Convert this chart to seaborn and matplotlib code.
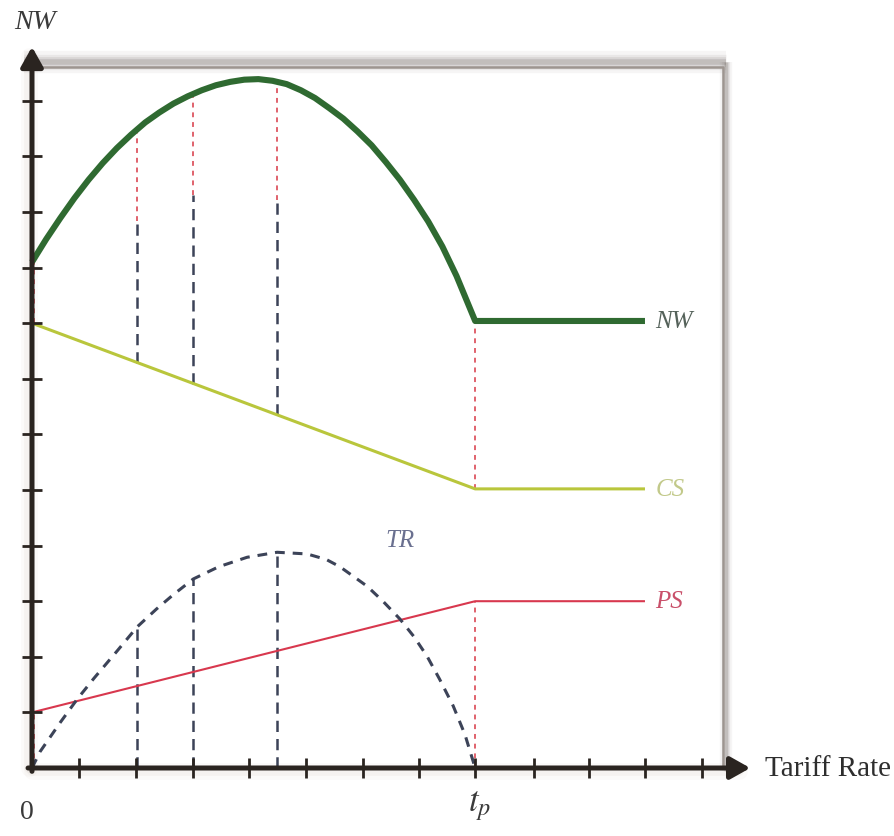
import numpy as np
import pandas as pd
import seaborn as sns
import matplotlib
matplotlib.use("Agg")
import matplotlib.pyplot as plt

# tariff rate axis (units of tick spacing measured from the origin)
tariff_ticks = [0.83, 1.84, 2.84, 3.83, 4.84, 5.85, 6.84, 7.83, 8.87, 9.84, 10.83, 11.84]
welfare_ticks = [1, 2, 3, 4, 5, 6, 7, 8, 9, 10, 11, 12]
t_p = 7.83
t_end = 10.83

# net welfare
nw_x = [0, 0.25, 0.5, 0.75, 1.0, 1.25, 1.5, 1.75, 2.0, 2.25, 2.5, 2.75, 3.0, 3.25, 3.5, 3.75,
        4.0, 4.25, 4.5, 4.75, 5.0, 5.25, 5.5, 5.75, 6.0, 6.25, 6.5, 6.75, 7.0, 7.25, 7.5, 7.83,
        10.83]
nw_y = [9.10, 9.51, 9.89, 10.25, 10.58, 10.88, 11.15, 11.39, 11.61, 11.79, 11.95, 12.08, 12.19,
        12.28, 12.34, 12.38, 12.39, 12.36, 12.30, 12.19, 12.05, 11.87, 11.68, 11.45, 11.20,
        10.90, 10.58, 10.22, 9.83, 9.38, 8.85, 8.04, 8.04]

# consumer surplus / producer surplus
cs_x = [0, 7.83, 10.83]
cs_y = [8.0, 5.02, 5.02]
ps_x = [0, 7.83, 10.83]
ps_y = [1.0, 3.0, 3.0]

# tariff revenue
tr_x = [0, 0.14, 0.5, 0.8, 1.1, 1.5, 1.86, 2.2, 2.5, 2.85, 3.3, 3.8, 4.33, 4.86, 5.2, 5.44,
        5.92, 6.2, 6.5, 6.75, 6.98, 7.2, 7.44, 7.65, 7.83]
tr_y = [0, 0.29, 0.82, 1.24, 1.62, 2.10, 2.54, 2.86, 3.12, 3.40, 3.62, 3.79, 3.88, 3.85, 3.75,
        3.62, 3.27, 3.00, 2.68, 2.36, 2.01, 1.60, 1.12, 0.60, 0]

# vertical guides
guide_x = [1.86, 2.85, 4.33]
guide_tr = [2.54, 3.40, 3.88]
guide_cs = [7.29, 6.91, 6.34]
guide_nw = [11.43, 12.14, 12.30]

NW_COL = "#2f6a31"
CS_COL = "#b9c63c"
PS_COL = "#d8384e"
TR_COL = "#3c4358"
DOT_COL = "#e0626c"
AX_COL = "#2a2420"

sns.set_style("white")
plt.rcParams["font.family"] = ["Liberation Serif", "DejaVu Serif"]
plt.rcParams["mathtext.fontset"] = "stix"

fig = plt.figure(figsize=(8.95, 8.37), dpi=100)
ax = fig.add_axes([0, 0, 1, 1])
XU, YU = 56.6, 55.6  # pixels per unit
ax.set_xlim(-32 / XU, (895 - 32) / XU)
ax.set_ylim(-(837 - 769) / YU, 769 / YU)
ax.axis("off")

# framed panel with soft shadow
FR, FT = 12.2, 12.61
for w, a in [(16, 0.06), (11, 0.09), (7, 0.13), (4, 0.2)]:
    ax.plot([-0.15, FR + 0.06], [FT + 0.08, FT + 0.08], color="#6b625c", lw=w, alpha=a,
            solid_capstyle="butt", zorder=1)
    ax.plot([FR + 0.06, FR + 0.06], [FT + 0.08, -0.05], color="#6b625c", lw=w * 0.55, alpha=a,
            solid_capstyle="butt", zorder=1)
ax.plot([0, FR, FR], [FT, FT, 0], color="#9d9590", lw=1.8, zorder=2)

# faint shadow around axes
for w, a in [(12, 0.03), (7, 0.05)]:
    ax.plot([-0.05, -0.05], [0, 12.8], color="#8a6a55", lw=w, alpha=a, zorder=2)
    ax.plot([0, 12.5], [-0.06, -0.06], color="#8a6a55", lw=w, alpha=a, zorder=2)

# vertical guides
dotted = (0, (2.5, 2.5))
navy_dash = (0, (4.5, 2.8))
for gx, tr, cs, nw in zip(guide_x, guide_tr, guide_cs, guide_nw):
    ax.plot([gx, gx], [0, tr], color=TR_COL, lw=1.8, linestyle=navy_dash, zorder=3)
    ax.plot([gx, gx], [cs, cs + tr], color=TR_COL, lw=1.8, linestyle=navy_dash, zorder=3)
    ax.plot([gx, gx], [cs + tr, nw], color=DOT_COL, lw=1.4, linestyle=dotted, zorder=3)
ax.plot([t_p, t_p], [0, ps_y[1]], color=DOT_COL, lw=1.4, linestyle=dotted, zorder=3)
ax.plot([t_p, t_p], [cs_y[1], nw_y[-1]], color=DOT_COL, lw=1.4, linestyle=dotted, zorder=3)
ax.plot([0.03, 0.03], [0, ps_y[0]], color=DOT_COL, lw=1.4, linestyle=dotted, zorder=3)
ax.plot([0.03, 0.03], [cs_y[0], nw_y[0]], color=DOT_COL, lw=1.4, linestyle=dotted, zorder=3)

# curves
sns.lineplot(x=cs_x, y=cs_y, ax=ax, color=CS_COL, lw=2.2, estimator=None, sort=False, zorder=4)
sns.lineplot(x=ps_x, y=ps_y, ax=ax, color=PS_COL, lw=1.5, estimator=None, sort=False, zorder=4)
sns.lineplot(x=tr_x, y=tr_y, ax=ax, color=TR_COL, lw=2.2, estimator=None, sort=False,
             linestyle=(0, (3.2, 2.6)), zorder=4)
sns.lineplot(x=nw_x, y=nw_y, ax=ax, color=NW_COL, lw=4.4, estimator=None, sort=False, zorder=5)
for line in ax.get_lines()[-4:]:
    line.set_solid_capstyle("butt")
    line.set_solid_joinstyle("round")

# axes with arrows
arrow = dict(arrowstyle="-|>,head_length=0.8,head_width=0.45", lw=3.6, color=AX_COL,
             mutation_scale=15, shrinkA=0, shrinkB=0)
ax.annotate("", xy=(0, 12.97), xytext=(0, -0.06), arrowprops=arrow, zorder=6)
ax.annotate("", xy=(12.69, 0), xytext=(-0.07, 0), arrowprops=arrow, zorder=6)
ax.plot(tariff_ticks, np.zeros(len(tariff_ticks)), ls="none", marker="|", ms=14, mew=2,
        color=AX_COL, zorder=6)
ax.plot(np.zeros(len(welfare_ticks)), welfare_ticks, ls="none", marker="_", ms=14, mew=2,
        color=AX_COL, zorder=6)

# labels
ax.text(t_end + 0.18, nw_y[-1], "NW", style="italic", fontsize=18, color="#55625a",
        ha="left", va="center")
ax.text(t_end + 0.18, cs_y[-1], "CS", style="italic", fontsize=18, color="#c2c98a",
        ha="left", va="center")
ax.text(t_end + 0.18, ps_y[-1], "PS", style="italic", fontsize=18, color="#c9506a",
        ha="left", va="center")
ax.text(6.5, 4.1, "TR", style="italic", fontsize=18, color="#6a7090", ha="center", va="center")
ax.text(0.05, 13.43, "NW", style="italic", fontsize=20, color="#3a3a3a", ha="center", va="center")
ax.text(-0.09, -0.78, "0", fontsize=20, color="#3a3a3a", ha="center", va="center")
ax.text(7.9, -0.66, r"$t_p$", fontsize=25, color="#3a3a3a", ha="center", va="center")
ax.text(12.95, 0, "Tariff Rate", fontsize=21, color="#2e2e2e", ha="left", va="center")

fig.savefig("out.png", dpi=100)
